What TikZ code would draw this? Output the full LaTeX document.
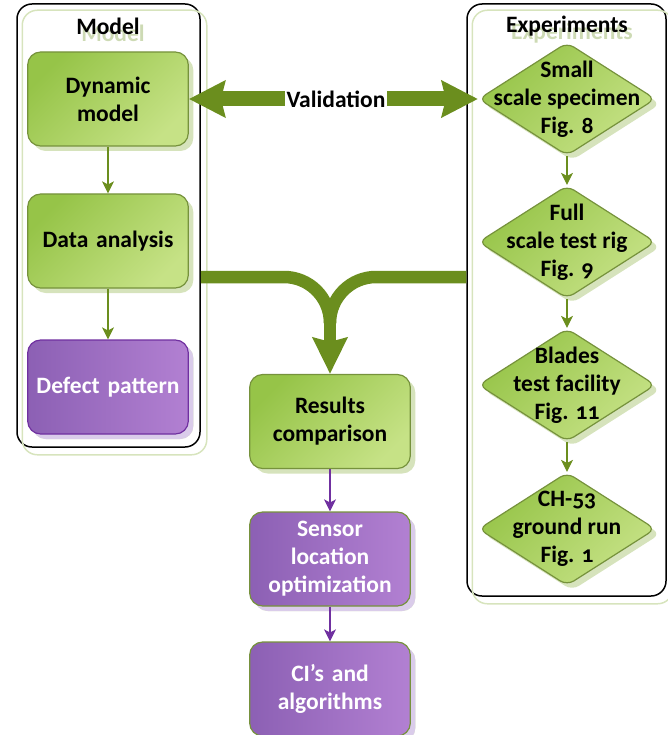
\documentclass[tikz,border=0pt]{standalone}
\usepackage{fontspec}
\setmainfont{Carlito}[Numbers=OldStyle]
\usetikzlibrary{shapes.geometric,shadows,arrows.meta,calc}
\definecolor{gDark}{RGB}{150,196,72}
\definecolor{gLight}{RGB}{198,226,134}
\definecolor{gBorder}{RGB}{118,146,60}
\definecolor{gShadow}{RGB}{214,227,188}
\definecolor{pDark}{RGB}{140,96,180}
\definecolor{pLight}{RGB}{178,128,210}
\definecolor{pBorder}{RGB}{112,48,160}
\definecolor{pShadow}{RGB}{218,204,234}
\definecolor{oliveA}{RGB}{107,142,30}
\definecolor{frameGreen}{RGB}{215,228,189}
\definecolor{ghostC}{RGB}{205,218,180}
\definecolor{purpA}{RGB}{112,48,160}
\tikzset{
  x=1pt, y=1pt,
  txt/.style={font=\fontsize{23.5}{28}\selectfont\bfseries, align=center},
  gbox/.style={txt, rectangle, rounded corners=13pt, minimum width=156pt, minimum height=94pt,
    text width=154pt, draw=gBorder, line width=1.2pt, left color=gDark, right color=gLight,
    shading angle=45, general shadow={shadow xshift=5pt, shadow yshift=-5pt, fill=gShadow}},
  pbox/.style={gbox, left color=pDark, right color=pLight, text=white,
    general shadow={shadow xshift=5pt, shadow yshift=-5pt, fill=pShadow}},
  gdia/.style={diamond, minimum width=177pt, minimum height=113pt, inner sep=0pt,
    rounded corners=8pt, draw=gBorder, line width=1.2pt, left color=gDark, right color=gLight,
    shading angle=45, general shadow={shadow xshift=5pt, shadow yshift=-5pt, fill=gShadow}},
  frame/.style={rectangle, rounded corners=15pt, draw=black, line width=1.5pt},
  ghostframe/.style={rounded corners=15pt, draw=frameGreen, line width=1.5pt},
  title/.style={txt},
  ghosttitle/.style={txt, text=ghostC},
  sarrow/.style={draw=oliveA, line width=1.2pt, -{Stealth[length=12pt,width=12pt,inset=3pt]}},
  parrow/.style={draw=purpA, line width=1.2pt, -{Stealth[length=12pt,width=12pt,inset=3pt]}},
  bigarrow/.style={draw=oliveA, line width=15pt},
}
\begin{document}
\begin{tikzpicture}
\useasboundingbox (0,0) rectangle (668,-735);
% containers
\node[frame, minimum width=183pt, minimum height=443pt] (mframe) at (108.5,-225.5) {};
\node[frame, minimum width=199pt, minimum height=592pt] (eframe) at (566.5,-300) {};
\draw[ghostframe] ($(mframe.south west)+(6,-7)$) rectangle ($(mframe.north east)+(6,-7)$);
\draw[ghostframe] ($(eframe.south west)+(6,-7)$) rectangle ($(eframe.north east)+(6,-7)$);
\node[ghosttitle] at (113,-33) {Model};
\node[title] (mtitle) at (108,-26) {Model};
\node[ghosttitle] at (572,-33) {Experiments};
\node[title] (etitle) at (567,-26) {Experiments};
% model boxes
\node[gbox] (dyn) at (108,-99) {Dynamic\\model};
\node[gbox] (da) at (108,-241) {Data analysis};
\node[pbox, draw=pBorder] (dp) at (108,-387) {Defect pattern};
% experiments diamonds
\node[gdia, label={[txt]center:{Small\\scale specimen\\Fig. 8}}] (d1) at (567,-99) {};
\node[gdia, label={[txt]center:{Full\\scale test rig\\Fig. 9}}] (d2) at (567,-242) {};
\node[gdia, label={[txt]center:{Blades\\test facility\\Fig. 11}}] (d3) at (567,-385) {};
\node[gdia, label={[txt]center:{CH-53\\ground run\\Fig. 1}}] (d4) at (567,-529) {};
% center column
\node[gbox] (res) at (330,-421.5) {Results\\comparison};
\node[pbox] (sen) at (330,-559) {Sensor\\location\\optimization};
\node[pbox] (ci) at (330,-689) {CI’s and\\algorithms};
% small arrows
\draw[sarrow] (dyn) -- (da);
\draw[sarrow] (da) -- (dp);
\draw[sarrow] (d1) -- (d2);
\draw[sarrow] (d2) -- (d3);
\draw[sarrow] (d3) -- (d4);
\draw[parrow] (res) -- (sen);
\draw[parrow] (sen) -- (ci);
% validation
\draw[bigarrow, {Stealth[length=36pt,width=36pt,inset=4pt]}-{Stealth[length=36pt,width=36pt,inset=4pt]}] (dyn.east) -- (d1.west);
\node[txt, fill=white, inner sep=2pt] (val) at (336,-99) {Validation};
% merge
\coordinate (mY) at (0,-277);
\coordinate (jn) at (330,-323);
\draw[bigarrow, line width=12.5pt] (mframe.east |- mY) -- (284,-277) arc[start angle=90, end angle=0, radius=46];
\draw[bigarrow, line width=12.5pt] (eframe.west |- mY) -- (376,-277) arc[start angle=90, end angle=180, radius=46];
\draw[bigarrow, line width=12.5pt, -{Stealth[length=36pt,width=34pt,inset=4pt]}] (jn) -- (res.north);
\end{tikzpicture}
\end{document}
